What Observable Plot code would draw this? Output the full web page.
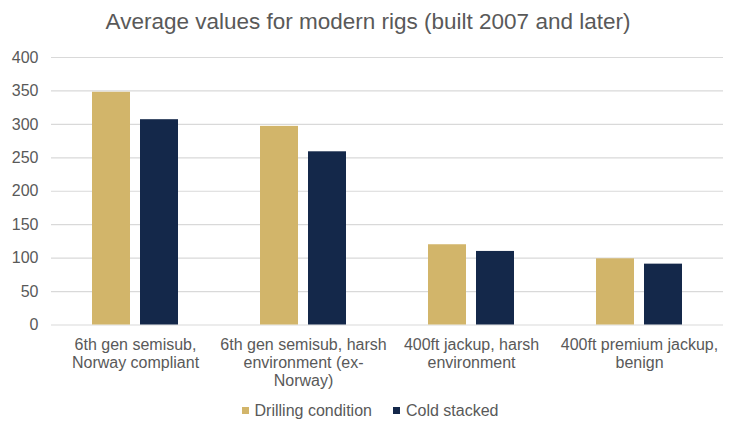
<!DOCTYPE html>
<html>
<head>
<meta charset="utf-8">
<script src="https://cdn.jsdelivr.net/npm/d3@7"></script>
<script src="https://cdn.jsdelivr.net/npm/@observablehq/plot@0.6"></script>
<style>
  html, body { margin: 0; padding: 0; background: #fff; }
  body { width: 736px; height: 435px; overflow: hidden; font-family: "Liberation Sans", Arial, sans-serif; color: #595959; }
  #title { height: 44px; line-height: 44px; text-align: center; font-size: 22.5px; color: #595959; }
  #chart svg { display: block; }
  #legend { height: 39px; display: flex; justify-content: center; align-items: center; font-size: 16px; color: #595959; padding-left: 4px; box-sizing: border-box; padding-bottom: 10px; }
  .item { display: flex; align-items: center; }
  .item + .item { margin-left: 21px; }
  .sw { width: 7px; height: 7px; margin-right: 6px; }
</style>
</head>
<body>
<div id="title">Average values for modern rigs (built 2007 and later)</div>
<div id="chart"></div>
<div id="legend"></div>
<script>
const categories = [
  "6th gen semisub, Norway compliant",
  "6th gen semisub, harsh environment (ex-Norway)",
  "400ft jackup, harsh environment",
  "400ft premium jackup, benign"
];
const categoryLabels = [
  "6th gen semisub,\nNorway compliant",
  "6th gen semisub, harsh\nenvironment (ex-\nNorway)",
  "400ft jackup, harsh\nenvironment",
  "400ft premium jackup,\nbenign"
];
const series = ["Drilling condition", "Cold stacked"];
const drillingValues = [348, 297, 120, 99];
const coldStackedValues = [307, 259, 110, 91];
const seriesColors = ["#D2B56A", "#14284A"];
const yTicks = [0, 50, 100, 150, 200, 250, 300, 350, 400];

const data = [];
categories.forEach((c, i) => {
  data.push({category: c, series: series[0], value: drillingValues[i]});
  data.push({category: c, series: series[1], value: coldStackedValues[i]});
});
const labelOf = new Map(categories.map((c, i) => [c, categoryLabels[i]]));

const chart = Plot.plot({
  width: 736,
  height: 352,
  marginLeft: 50,
  marginRight: 13,
  marginTop: 13,
  marginBottom: 71.5,
  style: {fontFamily: "'Liberation Sans', Arial, sans-serif", fontSize: "16px", color: "#595959", background: "#fff"},
  y: {domain: [0, 400], label: null},
  fx: {domain: categories, padding: 0, label: null, axis: null},
  x: {domain: series, paddingInner: 0.208, paddingOuter: 0.854, axis: null},
  color: {domain: series, range: seriesColors},
  marks: [
    Plot.gridY(yTicks, {stroke: "#d9d9d9", strokeOpacity: 1, strokeWidth: 1.2}),
    Plot.axisY(yTicks, {tickSize: 0, tickPadding: 13, fill: "#595959", fontSize: 16, label: null}),
    Plot.barY(data, {fx: "category", x: "series", y: "value", fill: "series"}),
    Plot.axisFx({anchor: "bottom", tickSize: 0, tickPadding: 12.5, lineHeight: 1.12, fontSize: 16, fill: "#595959", tickFormat: d => labelOf.get(d), label: null})
  ]
});
document.getElementById("chart").appendChild(chart);

const legend = document.getElementById("legend");
series.forEach((s, i) => {
  const it = document.createElement("div");
  it.className = "item";
  const sw = document.createElement("div");
  sw.className = "sw";
  sw.style.background = seriesColors[i];
  const t = document.createElement("span");
  t.textContent = s;
  it.appendChild(sw); it.appendChild(t);
  legend.appendChild(it);
});
</script>
</body>
</html>
